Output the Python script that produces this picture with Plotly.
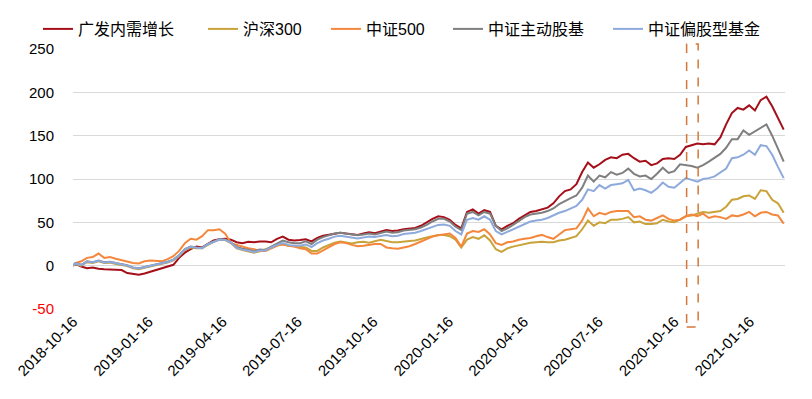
import plotly.graph_objects as go

# ---------------- data (weekly samples) ----------------
DATES = [
    "2018-10-16", "2018-10-19", "2018-10-26", "2018-11-02", "2018-11-09", "2018-11-16", "2018-11-23", "2018-11-30",
    "2018-12-07", "2018-12-14", "2018-12-21", "2018-12-28",
    "2019-01-04", "2019-01-11", "2019-01-18", "2019-01-25", "2019-02-01", "2019-02-08", "2019-02-15", "2019-02-22",
    "2019-03-01", "2019-03-08", "2019-03-15", "2019-03-22", "2019-03-29", "2019-04-05", "2019-04-12", "2019-04-19",
    "2019-04-26", "2019-05-03", "2019-05-10", "2019-05-17", "2019-05-24", "2019-05-31", "2019-06-07", "2019-06-14",
    "2019-06-21", "2019-06-28", "2019-07-05", "2019-07-12", "2019-07-19", "2019-07-26", "2019-08-02", "2019-08-09",
    "2019-08-16", "2019-08-23", "2019-08-30", "2019-09-06", "2019-09-13", "2019-09-20", "2019-09-27", "2019-10-04",
    "2019-10-11", "2019-10-18", "2019-10-25", "2019-11-01", "2019-11-08", "2019-11-15", "2019-11-22", "2019-11-29",
    "2019-12-06", "2019-12-13", "2019-12-20", "2019-12-27",
    "2020-01-03", "2020-01-10", "2020-01-17", "2020-01-24", "2020-01-31", "2020-02-07", "2020-02-14", "2020-02-21",
    "2020-02-28", "2020-03-06", "2020-03-13", "2020-03-20", "2020-03-27", "2020-04-03", "2020-04-10", "2020-04-17",
    "2020-04-24", "2020-05-01", "2020-05-08", "2020-05-15", "2020-05-22", "2020-05-29", "2020-06-05", "2020-06-12",
    "2020-06-19", "2020-06-26", "2020-07-03", "2020-07-10", "2020-07-17", "2020-07-24", "2020-07-31", "2020-08-07",
    "2020-08-14", "2020-08-21", "2020-08-28", "2020-09-04", "2020-09-11", "2020-09-18", "2020-09-25", "2020-10-02",
    "2020-10-09", "2020-10-16", "2020-10-23", "2020-10-30", "2020-11-06", "2020-11-13", "2020-11-20", "2020-11-27",
    "2020-12-04", "2020-12-11", "2020-12-18", "2020-12-25",
    "2021-01-01", "2021-01-08", "2021-01-15", "2021-01-22", "2021-01-29", "2021-02-05", "2021-02-12", "2021-02-19",
    "2021-02-26",
]

GUANGFA = [
    0, 2, -1, -3, -2, -3.5, -4, -4.5, -5, -5, -8.5, -9.5,
    -10.5, -9, -7, -5, -3.5, -1.5, 1, 9, 15, 19, 22, 21,
    25, 29, 30.5, 31, 30, 27, 26, 27.5, 27, 28, 28, 27,
    31, 33.5, 30, 29, 29.5, 30.5, 28, 32, 34.5, 35.5, 37, 38,
    37, 36.5, 35.5, 37, 38.5, 37.5, 39, 41, 40, 40.5, 42, 42.5,
    43.5, 46, 50, 54, 57, 56, 53, 47, 43, 62, 65, 60,
    64, 62, 46, 42, 46, 49, 54, 58, 62, 63, 65, 67,
    72, 80, 86, 88, 94, 108, 119, 113, 117, 122, 125, 124,
    128, 129, 124, 120, 121, 116, 118, 123, 124, 123, 128, 137,
    139, 141, 140, 141, 140, 148, 163, 176, 182, 180, 185, 179,
    191, 195, 184, 170, 157,
]

HS300 = [
    0, 2, 0, 4, 3, 5, 3, 3.5, 2, 0.5, -0.5, -3,
    -4, -2.5, -1, 0.5, 1.5, 3.5, 6, 11, 18, 21, 20, 20,
    24, 27.5, 30, 29.5, 26, 20, 18, 16.5, 15, 16.5, 19, 22,
    24, 24.5, 23, 22.5, 21.5, 21, 17, 17, 21, 24, 26.5, 28,
    26.5, 25.5, 27, 27.5, 26.5, 28, 30, 28.5, 27, 27, 28, 28.5,
    29, 31, 32.5, 34, 35.5, 35.5, 34, 30, 21, 30, 33, 31,
    35, 29, 19, 16, 20, 22, 23.5, 25, 26.5, 27, 27.5, 27,
    27, 29, 30, 32, 34, 42, 52, 46, 50, 49, 53, 53,
    54, 56, 50, 51, 48, 48, 49, 53, 51, 50, 53, 57,
    58, 60, 62, 61, 62, 63, 68, 76, 77, 80, 81, 77,
    87, 86, 76, 72, 61,
]

ZZ500 = [
    0, 3, 5, 9, 10, 14, 9, 10, 8, 6.5, 5, 3,
    2.5, 5, 6, 5.5, 5, 7.5, 11, 17, 26, 31, 30, 34,
    41, 41, 42, 37, 26, 24, 22, 20, 19, 17, 17, 20,
    23, 25, 23, 22, 20, 19, 14, 14, 18, 22, 25, 27,
    26, 24, 22.5, 23, 24, 25, 25, 21, 20, 19.5, 21, 22.5,
    25, 28, 31, 33.5, 35, 36, 37, 32, 22, 37, 40, 39,
    42, 36, 26, 24, 27, 28, 30, 31, 32, 34, 35.5, 33,
    31, 36, 41, 42, 43, 52, 66, 57, 61, 59, 62, 63,
    63, 63, 56, 57, 53, 52, 55, 58, 54, 52, 53, 57,
    59, 57, 60, 55, 57, 56, 54, 58, 57, 59, 62, 57,
    61, 62, 59, 58, 48.5,
]

ACTIVE_EQ = [
    0, 3, 1, 5, 4, 6, 4, 4.5, 3, 1.5, 0.5, -2,
    -3, -1.5, 0, 1.5, 2.5, 4.5, 7, 12, 19, 22, 21, 20.5,
    25, 28, 30.5, 30, 27, 21.5, 19.5, 18.5, 16.5, 18.5, 18, 22,
    26, 29, 27, 26, 26, 28, 25, 30, 33, 35, 37, 38,
    37, 36, 35, 36, 37, 36, 38, 39.5, 38, 38.5, 40.5, 41,
    42, 44, 47, 51, 54, 54, 51, 45, 41, 60, 62, 58,
    62, 60, 46, 40, 43, 47, 52, 56, 59, 60, 61, 63,
    66, 71, 75, 78, 81, 90, 104, 97, 104, 102, 108, 105,
    107, 112, 106, 103, 104, 100, 106, 113, 107, 109, 117, 116,
    115, 113, 116, 120, 124, 129, 136, 146, 146, 156, 151, 155,
    158, 163, 150, 136, 120,
]

PARTIAL_EQ = [
    0, 2.7, 0.7, 4.7, 3.7, 5.7, 3.7, 4.2, 2.7, 1.2, 0.2, -2.3,
    -3.3, -1.8, -0.3, 1.2, 2.2, 4.2, 6.7, 11.7, 18.7, 21.7, 20.7, 20.2,
    24.7, 27.7, 30.2, 29.7, 26.7, 20.5, 18.5, 17.5, 15.5, 17.5, 17.5, 21,
    24, 26, 24, 23, 23, 24.5, 21.5, 26, 29, 31, 33.5, 34.5,
    33.5, 32.5, 31.5, 32.5, 33.5, 33, 34.5, 35.5, 34, 34.5, 36.5, 37,
    38, 40, 42.5, 45, 47, 47.5, 46, 40, 36, 53, 55, 53,
    57, 53, 40, 36, 39, 42, 45, 48, 51, 52, 53, 55,
    58, 61, 63, 66, 69, 76, 88, 86, 93, 89, 93, 94,
    95, 99, 87, 89, 87, 84, 89, 96, 91, 90, 96, 101,
    99, 97, 100, 101, 103, 107, 112, 124, 125, 128, 133, 128,
    139, 138, 128, 114, 101,
]

SERIES_NAMES = ["广发内需增长", "沪深300", "中证500", "中证主动股基", "中证偏股型基金"]
SERIES_VALUES = [GUANGFA, HS300, ZZ500, ACTIVE_EQ, PARTIAL_EQ]
SERIES_COLORS = ["#A50F1A", "#C9A33A", "#F4873C", "#7F7F7F", "#8EAADC"]

X_TICKS = ["2018-10-16", "2019-01-16", "2019-04-16", "2019-07-16", "2019-10-16",
           "2020-01-16", "2020-04-16", "2020-07-16", "2020-10-16", "2021-01-16"]
Y_TICKS = [-50, 0, 50, 100, 150, 200, 250]

HIGHLIGHT = ["2020-10-31", "2020-11-14"]

# ---------------- figure ----------------
# The page body has an 8px margin, so the figure is 8px smaller on each axis.
W, H = 804, 391
ML, MT = 65, 41
PW, PH = 712, 260
MR = W - ML - PW
MB = H - MT - PH

fig = go.Figure()
legend_px = [30, 195, 318, 440, 600]  # left edge of each legend entry (figure pixels)
legend_names = ["legend", "legend2", "legend3", "legend4", "legend5"]

for name, vals, col, lg in zip(SERIES_NAMES, SERIES_VALUES, SERIES_COLORS, legend_names):
    fig.add_trace(go.Scatter(
        x=DATES, y=vals, name=name, mode="lines",
        line=dict(color=col, width=2),
        legend=lg,
    ))

font_family = "Liberation Sans, Arial, Noto Sans CJK SC, sans-serif"

layout_legends = {}
for px, lg in zip(legend_px, legend_names):
    layout_legends[lg] = dict(
        orientation="h",
        x=(px - ML) / PW, xanchor="left",
        y=1 + 37 / PH, yanchor="top",
        bgcolor="rgba(0,0,0,0)",
        font=dict(family=font_family, size=16, color="#000000"),
        itemwidth=30,
    )

ytext = [('<span style="color:#FF0000">%d</span>' % v) if v < 0 else str(v) for v in Y_TICKS]

fig.update_layout(
    width=W, height=H,
    margin=dict(l=ML, r=MR, t=MT, b=MB, pad=0, autoexpand=False),
    paper_bgcolor="white", plot_bgcolor="white",
    font=dict(family=font_family, size=15, color="#000000"),
    showlegend=True,
    **layout_legends,
    xaxis=dict(
        type="date",
        range=["2018-10-16", "2021-02-27 14:00"],
        tickmode="array", tickvals=X_TICKS, ticktext=X_TICKS,
        tickangle=-45,
        showgrid=False, zeroline=False, showline=False, ticks="",
        tickfont=dict(size=15, color="#000000"),
    ),
    yaxis=dict(
        range=[-50, 250],
        tickmode="array", tickvals=Y_TICKS, ticktext=ytext,
        showgrid=True, gridcolor="#D9D9D9", gridwidth=1,
        zeroline=False, showline=False, ticks="",
        ticklabelstandoff=18,
        tickfont=dict(size=15, color="#000000"),
    ),
    shapes=[dict(
        type="rect", xref="x", yref="paper",
        x0=HIGHLIGHT[0], x1=HIGHLIGHT[1],
        y0=-18 / PH, y1=1 + 5 / PH,
        line=dict(color="#D5773A", width=1.5, dash="dash"),
        fillcolor="rgba(0,0,0,0)",
    )],
)

fig.write_html("out.html")
